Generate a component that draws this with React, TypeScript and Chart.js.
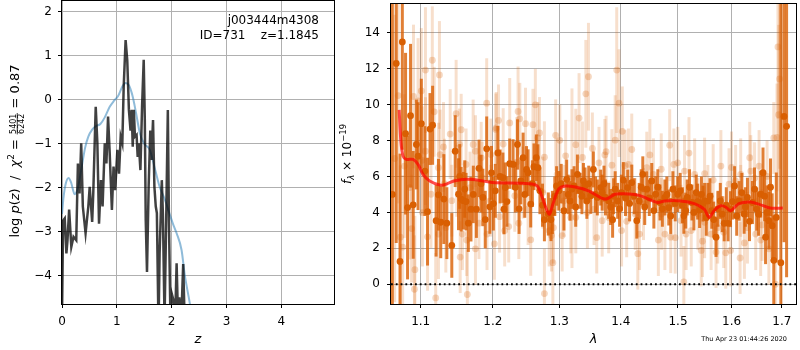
import React, { useEffect, useRef } from 'react';
import { Chart, registerables } from 'chart.js';

Chart.register(...registerables);

const FONT = "'DejaVu Sans', 'Liberation Sans', sans-serif";

// ---------- Left panel: log p(z) ----------
const Z_TICKS = [0, 1, 2, 3, 4];
const LOGP_TICKS = [-4, -3, -2, -1, 0, 1, 2];

const PZ_Z = [0.0, 0.02, 0.05, 0.08, 0.1, 0.13, 0.17, 0.21, 0.26, 0.29, 0.32, 0.35, 0.38, 0.43, 0.48, 0.505, 0.55, 0.57, 0.615, 0.645, 0.675, 0.71, 0.74, 0.78, 0.81, 0.84, 0.87, 0.91, 0.94, 0.97, 1.01, 1.04, 1.07, 1.1, 1.125, 1.16, 1.19, 1.22, 1.25, 1.27, 1.29, 1.31, 1.33, 1.36, 1.38, 1.4, 1.43, 1.46, 1.49, 1.51, 1.527, 1.55, 1.58, 1.61, 1.63, 1.66, 1.685, 1.71, 1.73, 1.76, 1.78, 1.82, 1.84, 1.87, 1.9, 1.93, 1.95, 1.98, 2.0, 2.04, 2.06, 2.09, 2.12, 2.14, 2.17, 2.21, 2.24, 2.26];
const PZ_LOGP = [-5.0, -2.75, -2.7, -3.5, -3.2, -2.5, -3.35, -3.12, -3.2, -1.45, -2.13, -0.99, -2.43, -3.04, -2.43, -1.98, -2.78, -2.13, -0.16, -0.99, -2.82, -1.83, -2.43, -0.99, -1.45, -0.38, -1.22, -2.51, -1.52, -2.06, -1.14, -1.68, -0.84, -0.99, 0.3, 1.36, 0.9, -0.23, -0.7, -0.23, -1.07, -0.23, -0.84, -0.8, -1.3, -0.99, -1.6, -0.16, 0.91, -0.46, -2.74, -3.92, -1.98, -0.7, -1.37, -0.46, -1.98, -2.43, -2.58, -5.2, -3.5, -1.83, -2.6, -5.0, -2.74, -0.23, -2.74, -5.2, -4.41, -4.6, -5.2, -3.72, -5.2, -4.5, -5.2, -3.74, -5.2, -6.0];

const PRIOR_Z = [0.0, 0.03, 0.07, 0.12, 0.17, 0.23, 0.29, 0.35, 0.42, 0.48, 0.55, 0.62, 0.7, 0.78, 0.87, 0.95, 1.02, 1.1, 1.16, 1.22, 1.29, 1.35, 1.42, 1.5, 1.6, 1.7, 1.78, 1.87, 1.96, 2.03, 2.09, 2.18, 2.24, 2.33, 2.4];
const PRIOR_LOGP = [-2.6, -2.2, -1.9, -1.78, -1.9, -2.15, -2.0, -1.6, -1.1, -0.84, -0.68, -0.6, -0.55, -0.4, -0.16, -0.02, 0.08, 0.3, 0.38, 0.33, 0.07, -0.3, -0.76, -1.0, -1.14, -1.6, -1.98, -2.25, -2.59, -2.85, -3.04, -3.42, -4.0, -4.63, -5.2];

// ---------- Right panel: spectrum ----------
const WAVE_TICKS = [1.1, 1.2, 1.3, 1.4, 1.5, 1.6, 1.7];
const FLUX_TICKS = [0, 2, 4, 6, 8, 10, 12, 14];

const DARK_WAVE = [1.063, 1.068, 1.0729, 1.0759, 1.0801, 1.0827, 1.0866, 1.0901, 1.0943, 1.0965, 1.1008, 1.1055, 1.1091, 1.1124, 1.1159, 1.1206, 1.1238, 1.1269, 1.1311, 1.1352, 1.142, 1.1467, 1.1513, 1.155, 1.1581, 1.1618, 1.165, 1.1687, 1.1764, 1.1801, 1.1856, 1.1911, 1.1956, 1.2007, 1.2072, 1.2146, 1.2161, 1.2182, 1.2246, 1.2296, 1.2361, 1.2411, 1.2445, 1.2496, 1.252, 1.256, 1.2609, 1.2645, 1.2669, 1.2769, 1.2829, 1.2893, 1.2958, 1.2993, 1.3073, 1.3116, 1.3169, 1.3234, 1.3287, 1.3331, 1.3384, 1.3439, 1.3503, 1.3545, 1.361, 1.3665, 1.369, 1.3745, 1.3798, 1.3863, 1.3906, 1.3948, 1.4043, 1.4118, 1.4187, 1.4273, 1.4315, 1.4377, 1.4446, 1.4533, 1.4602, 1.4678, 1.4765, 1.4834, 1.4908, 1.4995, 1.5106, 1.5167, 1.5254, 1.5333, 1.5396, 1.5457, 1.5489, 1.555, 1.5624, 1.5704, 1.5785, 1.5859, 1.5933, 1.5981, 1.6059, 1.6146, 1.6245, 1.631, 1.6408, 1.6493, 1.6572, 1.6619, 1.667, 1.6737, 1.6803, 1.6836, 1.6887, 1.698, 1.7045, 1.7098,
  1.153, 1.16, 1.172, 1.183, 1.189, 1.198, 1.2035, 1.2105, 1.2205, 1.233, 1.2385, 1.247, 1.2585, 1.27, 1.274, 1.287, 1.293, 1.303, 1.314, 1.32, 1.326, 1.336, 1.341, 1.347, 1.358, 1.372, 1.383, 1.388, 1.398, 1.401, 1.408, 1.415, 1.423, 1.435, 1.441, 1.449, 1.457, 1.464, 1.472, 1.48, 1.487, 1.495, 1.504, 1.508, 1.514, 1.521, 1.529, 1.536, 1.543, 1.552, 1.559, 1.566, 1.574, 1.582, 1.59, 1.602, 1.61, 1.62, 1.627, 1.635, 1.645, 1.653, 1.665, 1.67, 1.677];
const DARK_FLUX = [5.0, 12.29, 1.27, 13.49, 8.38, 4.27, 9.38, 4.42, 7.78, 7.13, 8.94, 6.3, 4.04, 8.64, 8.85, 3.54, 4.98, 3.45, 4.74, 3.4, 2.16, 7.41, 5.01, 4.74, 4.65, 4.6, 3.4, 4.18, 4.18, 6.45, 4.83, 7.54, 4.31, 4.49, 7.31, 5.93, 4.18, 5.38, 6.71, 6.67, 7.78, 5.75, 7.04, 6.39, 6.21, 4.46, 6.54, 7.04, 6.49, 3.59, 3.91, 4.0, 5.47, 5.2, 4.09, 5.84, 4.64, 5.47, 6.12, 5.2, 5.75, 4.64, 4.92, 6.39, 4.83, 5.38, 5.1, 4.83, 4.64, 3.59, 5.29, 4.64, 5.8, 5.38, 5.66, 3.54, 4.64, 6.12, 5.29, 5.75, 5.01, 4.55, 4.83, 4.27, 5.29, 5.01, 3.81, 4.83, 4.55, 5.1, 4.13, 4.49, 4.64, 4.64, 4.09, 2.62, 4.64, 3.39, 3.39, 4.18, 5.47, 4.64, 3.91, 4.83, 4.55, 4.18, 5.01, 6.21, 2.62, 3.54, 3.26, 1.33, 3.72, 1.2, 9.34, 8.79,
  6.0, 5.3, 5.0, 5.6, 3.6, 6.2, 5.2, 6.0, 4.6, 5.4, 4.2, 5.0, 5.6, 5.2, 4.4, 3.6, 4.9, 5.6, 5.0, 5.3, 4.3, 4.9, 5.5, 5.6, 5.0, 5.6, 4.3, 4.9, 4.2, 5.1, 4.8, 4.5, 4.9, 5.4, 4.3, 4.8, 4.1, 5.4, 4.2, 5.0, 3.8, 4.5, 5.2, 4.4, 4.1, 5.4, 4.0, 4.6, 5.0, 3.7, 4.9, 3.6, 4.2, 3.9, 4.4, 4.6, 3.8, 5.1, 4.3, 3.5, 5.3, 3.9, 4.9, 4.0, 5.4];
const DARK_ERR = [20, 10, 6, 6, 4.5, 4, 4, 3, 2.5, 3, 2.5, 2.5, 3, 2, 2.2, 2, 2, 2, 2.5, 2, 1.8, 2, 2, 1.8, 1.6, 1.6, 1.6, 1.8, 1.6, 1.6, 1.6, 1.8, 1.5, 1.5, 1.5, 1.4, 1.4, 1.4, 1.4, 1.4, 1.4, 1.3, 1.4, 1.3, 1.3, 1.3, 1.3, 1.3, 1.3, 1.2, 1.2, 1.2, 1.1, 1.1, 1.1, 1.1, 1.1, 1.1, 1.1, 1.0, 1.0, 1.0, 1.0, 1.0, 1.0, 1.0, 1.0, 1.0, 1.0, 1.0, 1.0, 1.0, 1.0, 1.0, 1.0, 1.0, 1.0, 1.0, 1.0, 1.0, 1.0, 1.0, 1.0, 1.0, 1.0, 1.0, 1.0, 1.0, 1.0, 1.0, 1.0, 1.0, 1.0, 1.0, 1.0, 1.1, 1.0, 1.0, 1.0, 1.0, 1.1, 1.1, 1.1, 1.1, 1.2, 1.2, 1.3, 1.4, 1.5, 1.6, 1.8, 2.5, 2.5, 16, 7, 8.4,
  1.8, 1.6, 1.6, 1.6, 1.6, 1.5, 1.5, 1.5, 1.4, 1.4, 1.4, 1.3, 1.3, 1.3, 1.2, 1.2, 1.1, 1.1, 1.1, 1.1, 1.1, 1.0, 1.0, 1.0, 1.0, 1.0, 1.0, 1.0, 1.0, 1.0, 1.0, 1.0, 1.0, 1.0, 1.0, 1.0, 1.0, 1.0, 1.0, 1.0, 1.0, 1.0, 1.0, 1.0, 1.0, 1.0, 1.0, 1.0, 1.0, 1.0, 1.0, 1.0, 1.0, 1.0, 1.0, 1.0, 1.1, 1.1, 1.1, 1.1, 1.2, 1.2, 1.4, 1.5, 1.6];

const LIGHT_WAVE = [1.066, 1.0705, 1.0733, 1.0763, 1.0785, 1.0857, 1.0905, 1.0917, 1.0923, 1.0965, 1.1008, 1.1022, 1.1063, 1.1063, 1.1091, 1.1137, 1.1155, 1.1201, 1.1238, 1.1238, 1.1251, 1.1261, 1.1306, 1.1338, 1.1398, 1.142, 1.148, 1.1489, 1.1526, 1.1536, 1.1567, 1.1618, 1.1627, 1.1636, 1.1673, 1.1718, 1.175, 1.175, 1.1832, 1.1846, 1.1911, 1.1915, 1.197, 1.197, 1.2022, 1.2042, 1.2048, 1.2082, 1.2097, 1.2172, 1.2231, 1.2246, 1.2321, 1.237, 1.2381, 1.2396, 1.2445, 1.2481, 1.252, 1.256, 1.2594, 1.263, 1.2669, 1.2694, 1.2744, 1.2769, 1.2769, 1.2843, 1.2878, 1.2908, 1.2943, 1.2967, 1.3008, 1.3045, 1.3073, 1.31, 1.3181, 1.3261, 1.3261, 1.3314, 1.3368, 1.3423, 1.3448, 1.3465, 1.3529, 1.3556, 1.3637, 1.369, 1.3734, 1.3755, 1.3798, 1.3851, 1.3906, 1.3932, 1.3971, 1.4014, 1.4026, 1.4073, 1.413, 1.4187, 1.4246, 1.4291, 1.4321, 1.4389, 1.4446, 1.4562, 1.4649, 1.4706, 1.4765, 1.4851, 1.4869, 1.4926, 1.4949, 1.4995, 1.5056, 1.5106, 1.5119, 1.5148, 1.5241, 1.5304, 1.5365, 1.5426, 1.5489, 1.5489, 1.555, 1.5611, 1.5704, 1.5735, 1.5796, 1.5889, 1.5952, 1.5981, 1.6079, 1.6166, 1.6178, 1.6178, 1.631, 1.6355, 1.6375, 1.6473, 1.654, 1.6572, 1.6737, 1.6836, 1.6868, 1.6901, 1.6921, 1.6935, 1.6955,
  1.32, 1.36, 1.41, 1.45, 1.47, 1.52, 1.545, 1.565, 1.585, 1.6, 1.625, 1.645, 1.66, 1.67, 1.29, 1.235, 1.215, 1.18, 1.155, 1.132, 1.118, 1.102, 1.088];
const LIGHT_FLUX = [7.0, 10.5, 2.62, 2.07, 6.58, 5.38, 10.45, -0.28, 0.81, 10.2, 10.76, 3.99, 11.92, 7.41, 2.64, 5.01, 12.47, -0.76, 2.79, 6.49, 11.65, 7.22, 7.64, 3.15, 8.36, 4.65, 9.49, 5.75, 7.78, 1.51, 2.79, 6.67, 2.46, -0.57, 5.38, 7.78, 7.41, 1.97, 7.04, 5.93, 10.08, 2.79, 7.22, 4.65, 2.25, 8.62, 8.7, 9.12, 3.76, 2.99, 3.21, 8.98, 4.92, 9.62, 3.4, 9.21, 5.66, 8.94, 4.18, 2.47, 8.88, 9.99, 8.14, 8.42, 5.1, 7.07, -0.52, 2.99, 2.71, 3.15, 8.29, 6.12, 8.01, 2.71, 4.64, 7.15, 3.72, 7.77, 3.72, 9.25, 7.06, 10.6, 3.99, 11.55, 7.56, 4.18, 6.76, 3.54, 7.2, 7.38, 3.72, 6.63, 8.02, 11.92, 10.08, 2.99, 8.51, 6.6, 6.67, 7.5, 3.91, 1.7, 2.79, 4.46, 6.49, 6.12, 2.46, 3.91, 2.79, 7.74, 2.62, 6.67, 2.59, 6.76, 3.54, 0.13, 6.3, 2.79, 2.99, 6.12, 3.91, 1.88, 6.16, 3.45, 4.64, 2.79, 1.79, 3.15, 6.58, 1.75, 5.57, 1.88, 5.75, 1.46, 6.12, 4.64, 3.15, 7.04, 6.3, 2.79, 6.58, 2.46, 1.97, 8.14, 0.0, 8.17, 13.21, 9.44, 11.43,
  5.9, 2.6, 3.5, 7.2, 6.4, 7.3, 2.4, 5.8, 2.9, 6.5, 2.3, 5.9, 3.3, 6.0, 1.2, 6.8, 7.8, 3.4, 8.6, 5.6, 9.6, 6.9, 3.1];
const LIGHT_ERR = [8, 6, 4, 4, 4, 4, 4, 3, 3, 3.5, 3.5, 3, 3.5, 3, 3, 3, 3, 2.5, 2.5, 2.5, 3, 2.5, 2.5, 2.5, 2.5, 2, 3, 2, 2, 2, 2, 2, 2, 2.5, 2, 2.5, 2, 2, 2, 2, 2.5, 2, 2, 2, 2, 2, 2, 2, 2, 2, 2, 2.5, 2, 2.5, 2, 2, 2, 2, 2, 2, 2, 2, 2, 2, 2, 2, 2.5, 2, 2, 2, 2, 2, 2, 2, 2, 2, 2, 2, 2, 2.5, 2, 3, 2, 3, 2, 2, 2, 2, 2, 2, 2, 2, 2.5, 3.5, 3, 2, 2.5, 2, 2, 2, 2, 2, 2, 2, 2, 2, 2, 2, 2, 2, 2, 2, 2, 2, 2, 2, 2, 2, 2, 2, 2, 2, 2, 2, 2, 2, 2, 2, 2, 2, 2, 2, 2, 2, 2, 2, 2, 2, 2, 2, 2, 2, 2, 2, 4, 3, 4, 5, 5, 5,
  2, 2, 2, 2, 2, 2, 2, 2, 2, 2, 2, 2, 2, 2.5, 2.5, 2, 2, 2, 2.5, 2.5, 3, 3, 3.5];

const MODEL_WAVE = [1.0718, 1.074, 1.0768, 1.081, 1.09, 1.0965, 1.103, 1.112, 1.127, 1.136, 1.145, 1.163, 1.181, 1.199, 1.2535, 1.266, 1.2736, 1.281, 1.2848, 1.29, 1.299, 1.3097, 1.3254, 1.3466, 1.3738, 1.3903, 1.4013, 1.4296, 1.4641, 1.4759, 1.5054, 1.5298, 1.5481, 1.5574, 1.5667, 1.5791, 1.5886, 1.5981, 1.6143, 1.6368, 1.6533, 1.6763, 1.702];
const MODEL_FLUX = [9.71, 7.96, 7.13, 6.95, 6.95, 6.67, 6.12, 5.75, 5.51, 5.6, 5.75, 5.84, 5.78, 5.66, 5.6, 5.47, 4.83, 4.09, 3.9, 4.46, 5.29, 5.47, 5.41, 5.2, 4.74, 5.01, 5.04, 4.96, 4.55, 4.64, 4.64, 4.49, 4.18, 3.72, 4.09, 4.37, 4.3, 4.09, 4.49, 4.58, 4.46, 4.24, 4.24];

const ZERO_LEVEL = [0, 0];

const OBJ_NAME = 'j003444m4308';
const OBJ_INFO = 'ID=731    z=1.1845';
const TIMESTAMP = 'Thu Apr 23 01:44:26 2020';

const pts = (xs: number[], ys: number[]) => xs.map((x, i) => ({ x, y: ys[i] }));
const fmt = (v: number) => (v < 0 ? '\u2212' + Math.abs(v) : String(v));

const gridCfg = { color: '#b0b0b0', lineWidth: 1, tickColor: '#000', tickLength: 4, tickWidth: 1, drawTicks: true };
const tickFont = { family: FONT, size: 12 };

const errorBarPlugin = {
  id: 'errbars',
  beforeDatasetDraw(chart: any, args: any) {
    const ds = chart.data.datasets[args.index];
    if (!ds.errors) return;
    const { ctx, chartArea: a } = chart;
    const xs = chart.scales.x, ys = chart.scales.y;
    ctx.save();
    ctx.beginPath();
    ctx.rect(a.left, a.top, a.right - a.left, a.bottom - a.top);
    ctx.clip();
    ctx.strokeStyle = ds.errColor;
    ctx.lineWidth = ds.errWidth;
    ds.data.forEach((p: any, i: number) => {
      const e = ds.errors[i];
      const x = xs.getPixelForValue(p.x);
      ctx.beginPath();
      ctx.moveTo(x, ys.getPixelForValue(p.y - e));
      ctx.lineTo(x, ys.getPixelForValue(p.y + e));
      ctx.stroke();
    });
    ctx.restore();
  },
};

const framePlugin = {
  id: 'frame',
  afterDatasetsDraw(chart: any) {
    const { ctx, chartArea: a } = chart;
    ctx.save();
    ctx.strokeStyle = '#000';
    ctx.lineWidth = 1;
    ctx.strokeRect(Math.round(a.left) - 0.5, Math.round(a.top) - 0.5, Math.round(a.right - a.left) + 1, Math.round(a.bottom - a.top) + 1);
    ctx.restore();
  },
};

type Piece = { t: string; font: string; dy?: number } | { num: string; den: string; font: string; numDy: number; denDy: number; barDy: number };

function drawRotated(ctx: CanvasRenderingContext2D, pieces: Piece[], bx: number, cy: number) {
  ctx.save();
  ctx.fillStyle = '#000';
  ctx.textBaseline = 'alphabetic';
  ctx.textAlign = 'left';
  const widths = pieces.map((p: any) => {
    ctx.font = p.font;
    if (p.num !== undefined) return Math.max(ctx.measureText(p.num).width, ctx.measureText(p.den).width) + 2;
    return ctx.measureText(p.t).width;
  });
  const total = widths.reduce((s, w) => s + w, 0);
  ctx.translate(bx, cy);
  ctx.rotate(-Math.PI / 2);
  let u = -total / 2;
  pieces.forEach((p: any, i) => {
    ctx.font = p.font;
    const w = widths[i];
    if (p.num !== undefined) {
      ctx.textAlign = 'center';
      ctx.fillText(p.num, u + w / 2, p.numDy);
      ctx.fillText(p.den, u + w / 2, p.denDy);
      ctx.textAlign = 'left';
      ctx.fillRect(u + 0.5, p.barDy - 0.4, w - 1, 0.8);
    } else {
      ctx.fillText(p.t, u, p.dy || 0);
    }
    u += w;
  });
  ctx.restore();
}

const leftTextPlugin = {
  id: 'leftText',
  afterDraw(chart: any) {
    const ctx = chart.ctx as CanvasRenderingContext2D;
    const main = `13px ${FONT}`;
    const ital = `italic 13px ${FONT}`;
    const small = `8px ${FONT}`;
    drawRotated(ctx, [
      { t: 'log ', font: main },
      { t: 'p', font: ital },
      { t: '(', font: main },
      { t: 'z', font: ital },
      { t: ')  /  ', font: main },
      { t: '\u03c7', font: ital },
      { t: '2', font: `9px ${FONT}`, dy: -5.5 },
      { t: ' = ', font: main },
      { num: '5401', den: '6242', font: small, numDy: -2.8, denDy: 5.2, barDy: -1.8 },
      { t: ' = 0.87', font: main },
    ], 19, 151);
    ctx.save();
    ctx.fillStyle = '#000';
    ctx.font = `12px ${FONT}`;
    ctx.textAlign = 'right';
    ctx.textBaseline = 'alphabetic';
    ctx.fillText(OBJ_NAME, 319, 23.5);
    ctx.fillText(OBJ_INFO, 319, 38.5);
    ctx.restore();
  },
};

const rightTextPlugin = {
  id: 'rightText',
  afterDraw(chart: any) {
    const ctx = chart.ctx as CanvasRenderingContext2D;
    drawRotated(ctx, [
      { t: 'f', font: `italic 12px ${FONT}` },
      { t: '\u03bb', font: `italic 8.5px ${FONT}`, dy: 3 },
      { t: ' \u00d7 10', font: `12px ${FONT}` },
      { t: '\u221219', font: `8.5px ${FONT}`, dy: -5 },
    ], 15, 154);
    ctx.save();
    ctx.fillStyle = '#000';
    ctx.font = `6.5px ${FONT}`;
    ctx.textAlign = 'right';
    ctx.textBaseline = 'alphabetic';
    ctx.fillText(TIMESTAMP, 451, 341);
    ctx.restore();
  },
};

function xAxisFit(h: number) {
  return (s: any) => { s.height = h; s.paddingLeft = 0; s.paddingRight = 0; };
}
function yAxisFit(w: number) {
  return (s: any) => { s.width = w; s.paddingTop = 0; s.paddingBottom = 0; };
}

function leftConfig(): any {
  return {
    type: 'scatter',
    data: {
      datasets: [
        {
          data: pts(PZ_Z, PZ_LOGP), showLine: true, borderColor: 'rgba(0,0,0,0.75)', borderWidth: 2.5,
          pointRadius: 0, tension: 0, order: 1,
        },
        {
          data: pts(PRIOR_Z, PRIOR_LOGP), showLine: true, borderColor: 'rgba(31,119,180,0.5)', borderWidth: 2,
          pointRadius: 0, cubicInterpolationMode: 'monotone', order: 2,
        },
      ],
    },
    options: {
      responsive: false, animation: false, events: [],
      layout: { padding: { left: 0, right: 2, top: 1, bottom: 0 } },
      plugins: { legend: { display: false }, tooltip: { enabled: false } },
      scales: {
        x: {
          type: 'linear', min: 0, max: 4.96, bounds: 'data',
          afterBuildTicks: (s: any) => { s.ticks = Z_TICKS.map((v) => ({ value: v })); },
          afterFit: xAxisFit(46),
          grid: gridCfg, border: { display: false },
          ticks: { font: tickFont, color: '#000', padding: 7, maxRotation: 0, callback: (v: any) => fmt(Number(v)) },
          title: { display: true, text: 'z', color: '#000', font: { family: FONT, size: 13, style: 'italic' }, padding: { top: 0, bottom: 3 } },
        },
        y: {
          type: 'linear', min: -4.65, max: 2.25, bounds: 'data',
          afterBuildTicks: (s: any) => { s.ticks = LOGP_TICKS.map((v) => ({ value: v })); },
          afterFit: yAxisFit(62),
          grid: gridCfg, border: { display: false },
          ticks: { font: tickFont, color: '#000', padding: 6, callback: (v: any) => fmt(Number(v)) },
        },
      },
    },
    plugins: [framePlugin, leftTextPlugin],
  };
}

function rightConfig(): any {
  const orange = 'rgba(217,95,2,1)';
  return {
    type: 'scatter',
    data: {
      datasets: [
        {
          data: pts(LIGHT_WAVE, LIGHT_FLUX), errors: LIGHT_ERR, errColor: 'rgba(217,95,2,0.2)', errWidth: 3,
          pointRadius: 3.4, backgroundColor: 'rgba(217,95,2,0.25)', borderWidth: 0, order: 5,
        },
        {
          data: pts(DARK_WAVE, DARK_FLUX), errors: DARK_ERR, errColor: 'rgba(217,95,2,0.8)', errWidth: 3,
          pointRadius: 3.4, backgroundColor: orange, borderWidth: 0, order: 4,
        },
        {
          data: pts(MODEL_WAVE, MODEL_FLUX), showLine: true, borderColor: 'rgba(255,0,0,0.7)', borderWidth: 3,
          pointRadius: 0, tension: 0.3, order: 3,
        },
        {
          data: pts([1.0613, 1.7293], ZERO_LEVEL), showLine: true, borderColor: '#000', borderWidth: 1.8,
          borderDash: [1.8, 3], pointRadius: 0, order: 2,
        },
      ],
    },
    options: {
      responsive: false, animation: false, events: [],
      layout: { padding: { left: 0, right: 1, top: 1, bottom: 0 } },
      plugins: { legend: { display: false }, tooltip: { enabled: false } },
      scales: {
        x: {
          type: 'logarithmic', min: 1.0613, max: 1.7293, bounds: 'data',
          afterBuildTicks: (s: any) => { s.ticks = WAVE_TICKS.map((v) => ({ value: v })); },
          afterFit: xAxisFit(46),
          grid: gridCfg, border: { display: false },
          ticks: { font: tickFont, color: '#000', padding: 7, maxRotation: 0, autoSkip: false, callback: (v: any) => Number(v).toFixed(1) },
          title: { display: true, text: '\u03bb', color: '#000', font: { family: FONT, size: 13, style: 'italic' }, padding: { top: 0, bottom: 3 } },
        },
        y: {
          type: 'linear', min: -1.1, max: 15.6, bounds: 'data',
          afterBuildTicks: (s: any) => { s.ticks = FLUX_TICKS.map((v) => ({ value: v })); },
          afterFit: yAxisFit(55),
          grid: gridCfg, border: { display: false },
          ticks: { font: tickFont, color: '#000', padding: 7, callback: (v: any) => fmt(Number(v)) },
        },
      },
    },
    plugins: [errorBarPlugin, framePlugin, rightTextPlugin],
  };
}

export default function App() {
  const leftRef = useRef<HTMLCanvasElement>(null);
  const rightRef = useRef<HTMLCanvasElement>(null);
  useEffect(() => {
    const c1 = new Chart(leftRef.current as HTMLCanvasElement, leftConfig());
    const c2 = new Chart(rightRef.current as HTMLCanvasElement, rightConfig());
    return () => { c1.destroy(); c2.destroy(); };
  }, []);
  return (
    <div style={{ position: 'absolute', left: 0, top: 0, width: 800, height: 350, background: '#fff' }}>
      <canvas ref={leftRef} width={336} height={350} style={{ position: 'absolute', left: 0, top: 0, width: 336, height: 350 }} />
      <canvas ref={rightRef} width={464} height={350} style={{ position: 'absolute', left: 336, top: 0, width: 464, height: 350 }} />
    </div>
  );
}
